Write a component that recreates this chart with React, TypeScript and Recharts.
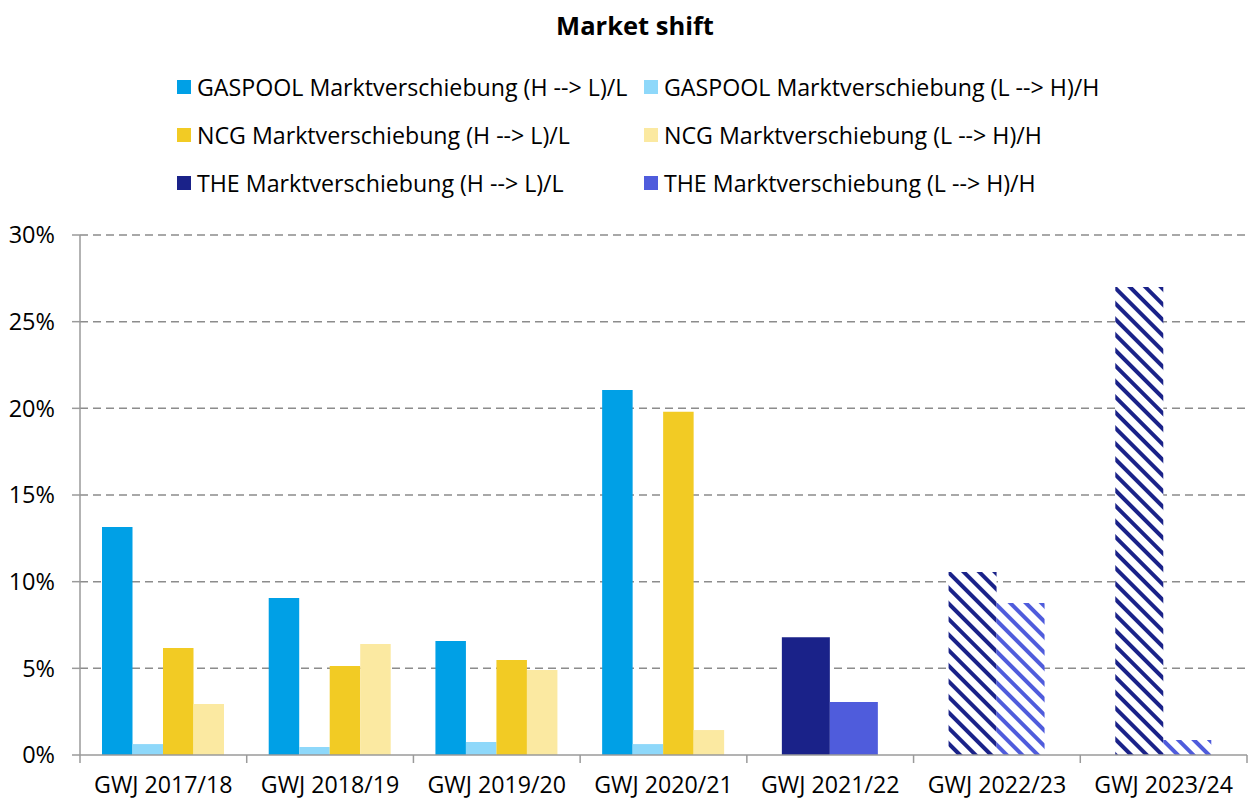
import React from 'react';
import { BarChart, Bar, XAxis, YAxis, CartesianGrid, Cell } from 'recharts';

const categories = ['GWJ 2017/18', 'GWJ 2018/19', 'GWJ 2019/20', 'GWJ 2020/21', 'GWJ 2021/22', 'GWJ 2022/23', 'GWJ 2023/24'];
const gaspoolHL = [13.15, 9.06, 6.58, 21.06, null, null, null];
const gaspoolLH = [0.63, 0.46, 0.75, 0.63, null, null, null];
const ncgHL = [6.17, 5.13, 5.48, 19.8, null, null, null];
const ncgLH = [2.94, 6.4, 4.9, 1.44, null, null, null];
const theHL = [null, null, null, null, 6.8, 10.56, 27.0];
const theLH = [null, null, null, null, 3.06, 8.77, 0.87];
const hatched = [false, false, false, false, false, true, true];
const yTicks = [0, 5, 10, 15, 20, 25, 30];

const seriesNames = [
  'GASPOOL Marktverschiebung (H --> L)/L',
  'GASPOOL Marktverschiebung (L --> H)/H',
  'NCG Marktverschiebung (H --> L)/L',
  'NCG Marktverschiebung (L --> H)/H',
  'THE Marktverschiebung (H --> L)/L',
  'THE Marktverschiebung (L --> H)/H',
];
const colors = ['#00A0E6', '#8ED8FA', '#F2CB24', '#FBE9A1', '#1A2289', '#4F5CDC'];

const data = categories.map((c, i) => ({
  name: c,
  gaspoolHL: gaspoolHL[i],
  gaspoolLH: gaspoolLH[i],
  ncgHL: ncgHL[i],
  ncgLH: ncgLH[i],
  theHL: theHL[i],
  theLH: theLH[i],
}));

const FONT = '"Open Sans", "Noto Sans", sans-serif';
const PLOT_LEFT = 80;
const PLOT_RIGHT = 1247;
const BAND = (PLOT_RIGHT - PLOT_LEFT) / categories.length;
const AXIS_COLOR = '#9a9a9a';

const XTick = (props: any) => {
  const { x, y, payload, index } = props;
  const half = BAND / 2;
  return (
    <g>
      <line x1={x - half} x2={x - half} y1={y} y2={y + 8} stroke={AXIS_COLOR} strokeWidth={1.5} />
      {index === categories.length - 1 && (
        <line x1={x + half} x2={x + half} y1={y} y2={y + 8} stroke={AXIS_COLOR} strokeWidth={1.5} />
      )}
      <text x={x} y={y + 38} textAnchor="middle" fill="#000" fontSize={23.2} fontFamily={FONT}>
        {payload.value}
      </text>
    </g>
  );
};

const legendLayout = [
  { col: 0, row: 0 },
  { col: 1, row: 0 },
  { col: 0, row: 1 },
  { col: 1, row: 1 },
  { col: 0, row: 2 },
  { col: 1, row: 2 },
];

export default function App() {
  return (
    <div style={{ position: 'absolute', left: 0, top: 0, width: 1248, height: 800, background: '#fff', fontFamily: FONT }}>
      <div style={{ position: 'absolute', top: 9, left: 0, width: 1270, textAlign: 'center', fontSize: 25.5, fontWeight: 700, color: '#000', lineHeight: '32px' }}>
        Market shift
      </div>
      {seriesNames.map((n, i) => {
        const l = legendLayout[i];
        const left = l.col === 0 ? 177 : 644;
        const top = 72 + l.row * 48;
        return (
          <div key={n} style={{ position: 'absolute', left, top, height: 30, display: 'flex', alignItems: 'center', fontSize: 23.2, lineHeight: '30px', color: '#000', whiteSpace: 'nowrap' }}>
            <span style={{ display: 'inline-block', width: 14, height: 14, background: colors[i], marginRight: 6 }} />
            <span>{n}</span>
          </div>
        );
      })}
      <div style={{ position: 'absolute', left: 0, top: 0 }}>
        <BarChart
          width={1248}
          height={800}
          data={data}
          margin={{ top: 235, right: 1, bottom: 0, left: 0 }}
          barGap={0}
        >
          <defs>
            <pattern id="hatchDark" patternUnits="userSpaceOnUse" width="11" height="11" patternTransform="rotate(-45)">
              <rect width="11" height="11" fill="#ffffff" />
              <rect width="4" height="11" fill="#1A2289" />
            </pattern>
            <pattern id="hatchLight" patternUnits="userSpaceOnUse" width="11" height="11" patternTransform="rotate(-45)">
              <rect width="11" height="11" fill="#ffffff" />
              <rect width="4" height="11" fill="#4F5CDC" />
            </pattern>
          </defs>
          <CartesianGrid vertical={false} stroke="#8c8c8c" strokeDasharray="8 5" strokeWidth={1.5} horizontalValues={[5, 10, 15, 20, 25, 30]} />
          <XAxis
            xAxisId="a"
            dataKey="name"
            height={45}
            tickLine={false}
            tickSize={0}
            tickMargin={0}
            axisLine={{ stroke: AXIS_COLOR, strokeWidth: 1.5 }}
            tick={<XTick />}
            interval={0}
          />
          <XAxis xAxisId="b" dataKey="name" hide />
          <YAxis
            width={80}
            domain={[0, 30]}
            ticks={yTicks}
            tickFormatter={(v: number) => `${v}%`}
            tick={{ fill: '#000', fontSize: 23.5, fontFamily: FONT }}
            tickLine={{ stroke: AXIS_COLOR, strokeWidth: 1.5 }}
            tickSize={8}
            tickMargin={17}
            axisLine={{ stroke: AXIS_COLOR, strokeWidth: 1.5 }}
            interval={0}
          />
          <Bar xAxisId="a" dataKey="gaspoolHL" fill={colors[0]} barSize={30.5} isAnimationActive={false} />
          <Bar xAxisId="a" dataKey="gaspoolLH" fill={colors[1]} barSize={30.5} isAnimationActive={false} />
          <Bar xAxisId="a" dataKey="ncgHL" fill={colors[2]} barSize={30.5} isAnimationActive={false} />
          <Bar xAxisId="a" dataKey="ncgLH" fill={colors[3]} barSize={30.5} isAnimationActive={false} />
          <Bar xAxisId="b" dataKey="theHL" fill={colors[4]} barSize={48} isAnimationActive={false}>
            {data.map((d, i) => (
              <Cell key={d.name} fill={hatched[i] ? 'url(#hatchDark)' : colors[4]} />
            ))}
          </Bar>
          <Bar xAxisId="b" dataKey="theLH" fill={colors[5]} barSize={48} isAnimationActive={false}>
            {data.map((d, i) => (
              <Cell key={d.name} fill={hatched[i] ? 'url(#hatchLight)' : colors[5]} />
            ))}
          </Bar>
        </BarChart>
      </div>
    </div>
  );
}
